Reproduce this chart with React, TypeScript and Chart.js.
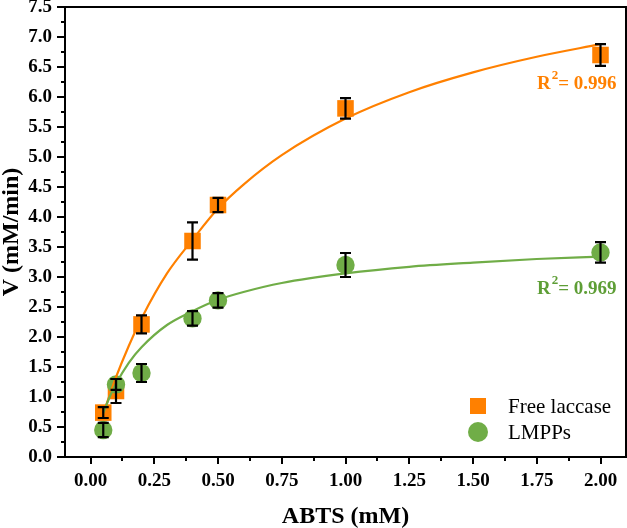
import React, { useEffect, useRef } from "react";
import { Chart, registerables } from "chart.js";

Chart.register(...registerables);

// ---- data ----
const substrateX = [0.05, 0.1, 0.2, 0.4, 0.5, 1.0, 2.0];
const freeLaccaseV = [0.74, 1.1, 2.21, 3.6, 4.2, 5.81, 6.7];
const freeLaccaseErr = [0.09, 0.2, 0.15, 0.31, 0.12, 0.17, 0.18];
const lmppsV = [0.45, 1.21, 1.4, 2.31, 2.61, 3.2, 3.41];
const lmppsErr = [0.12, 0.09, 0.15, 0.12, 0.12, 0.2, 0.17];

// fitted curves
const fitX = [0.05, 0.075, 0.1, 0.15, 0.2, 0.3, 0.4, 0.5, 0.6, 0.75, 1.0, 1.25, 1.5, 1.75, 2.0];
const freeLaccaseFit = [0.72, 1.03, 1.33, 1.85, 2.31, 3.06, 3.62, 4.14, 4.54, 5.03, 5.64, 6.08, 6.41, 6.67, 6.88];
const lmppsFit = [0.73, 1.0, 1.22, 1.57, 1.83, 2.2, 2.43, 2.62, 2.75, 2.9, 3.06, 3.17, 3.24, 3.3, 3.34];

const xMajorTicks = [0, 0.25, 0.5, 0.75, 1.0, 1.25, 1.5, 1.75, 2.0];
const xMinorTicks = [0.125, 0.375, 0.625, 0.875, 1.125, 1.375, 1.625, 1.875];
const yMajorTicks = [0, 0.5, 1.0, 1.5, 2.0, 2.5, 3.0, 3.5, 4.0, 4.5, 5.0, 5.5, 6.0, 6.5, 7.0, 7.5];
const yMinorTicks = [0.25, 0.75, 1.25, 1.75, 2.25, 2.75, 3.25, 3.75, 4.25, 4.75, 5.25, 5.75, 6.25, 6.75, 7.25];

const seriesNames = ["Free laccase", "LMPPs"];
const r2Labels = ["0.996", "0.969"];

const ORANGE = "#FF8000";
const GREEN = "#70AD47";
const GREEN_TEXT = "#5E9E36";
const SERIF = "'Liberation Serif', 'Times New Roman', serif";

const framePlugin = {
  id: "frameAndTicks",
  afterDraw(chart: any) {
    const { ctx, chartArea, scales } = chart;
    const xs = scales.x;
    const ys = scales.y;
    ctx.save();
    ctx.strokeStyle = "#000";
    ctx.lineWidth = 2;
    ctx.strokeRect(chartArea.left, chartArea.top, chartArea.right - chartArea.left, chartArea.bottom - chartArea.top);
    ctx.beginPath();
    xMajorTicks.forEach((v) => {
      const px = Math.round(xs.getPixelForValue(v));
      ctx.moveTo(px, chartArea.bottom);
      ctx.lineTo(px, chartArea.bottom + 7);
    });
    xMinorTicks.forEach((v) => {
      const px = Math.round(xs.getPixelForValue(v));
      ctx.moveTo(px, chartArea.bottom);
      ctx.lineTo(px, chartArea.bottom + 4);
    });
    yMajorTicks.forEach((v) => {
      const py = Math.round(ys.getPixelForValue(v));
      ctx.moveTo(chartArea.left, py);
      ctx.lineTo(chartArea.left - 8, py);
    });
    yMinorTicks.forEach((v) => {
      const py = Math.round(ys.getPixelForValue(v));
      ctx.moveTo(chartArea.left, py);
      ctx.lineTo(chartArea.left - 4, py);
    });
    ctx.stroke();
    ctx.restore();
  },
};

const errorBarPlugin = {
  id: "errorBars",
  afterDatasetsDraw(chart: any) {
    const { ctx, scales } = chart;
    const ys = scales.y;
    const errs = [freeLaccaseErr, lmppsErr];
    const vals = [freeLaccaseV, lmppsV];
    ctx.save();
    ctx.strokeStyle = "#000";
    ctx.lineWidth = 2.2;
    [0, 1].forEach((di) => {
      const meta = chart.getDatasetMeta(di);
      meta.data.forEach((pt: any, j: number) => {
        const x = pt.x;
        const top = ys.getPixelForValue(vals[di][j] + errs[di][j]);
        const bot = ys.getPixelForValue(vals[di][j] - errs[di][j]);
        ctx.beginPath();
        ctx.moveTo(x, top);
        ctx.lineTo(x, bot);
        ctx.moveTo(x - 5.5, top);
        ctx.lineTo(x + 5.5, top);
        ctx.moveTo(x - 5.5, bot);
        ctx.lineTo(x + 5.5, bot);
        ctx.stroke();
      });
    });
    ctx.restore();
  },
};

const annotationPlugin = {
  id: "annotations",
  afterDraw(chart: any) {
    const { ctx, chartArea } = chart;
    ctx.save();
    const drawR2 = (x: number, y: number, value: string, color: string) => {
      ctx.fillStyle = color;
      ctx.textBaseline = "alphabetic";
      ctx.textAlign = "left";
      ctx.font = `bold 19px ${SERIF}`;
      ctx.fillText("R", x, y);
      const rw = ctx.measureText("R").width;
      ctx.font = `bold 13px ${SERIF}`;
      ctx.fillText("2", x + rw + 1, y - 10);
      const sw = ctx.measureText("2").width;
      ctx.font = `bold 19px ${SERIF}`;
      ctx.fillText("= " + value, x + rw + sw + 1, y);
    };
    drawR2(chartArea.right - 89, 89, r2Labels[0], ORANGE);
    drawR2(chartArea.right - 89, 294, r2Labels[1], GREEN_TEXT);

    const lx = chartArea.right - 148;
    const ly1 = chartArea.bottom - 51;
    const ly2 = chartArea.bottom - 25;
    ctx.fillStyle = ORANGE;
    ctx.fillRect(lx - 8, ly1 - 8, 16, 16);
    ctx.fillStyle = GREEN;
    ctx.beginPath();
    ctx.arc(lx, ly2, 10, 0, Math.PI * 2);
    ctx.fill();
    ctx.fillStyle = "#000";
    ctx.font = `21px ${SERIF}`;
    ctx.textBaseline = "middle";
    ctx.fillText(seriesNames[0], lx + 30, ly1 + 1);
    ctx.fillText(seriesNames[1], lx + 30, ly2 + 1);
    ctx.restore();
  },
};

export default function App() {
  const canvasRef = useRef<HTMLCanvasElement | null>(null);

  useEffect(() => {
    if (!canvasRef.current) return;
    document.body.style.margin = "0";
    const chart = new Chart(canvasRef.current, {
      type: "scatter",
      data: {
        datasets: [
          {
            label: seriesNames[0],
            data: substrateX.map((x, i) => ({ x, y: freeLaccaseV[i] })),
            backgroundColor: ORANGE,
            borderWidth: 0,
            pointStyle: "rect",
            pointRadius: 11.7,
            order: 3,
          },
          {
            label: seriesNames[1],
            data: substrateX.map((x, i) => ({ x, y: lmppsV[i] })),
            backgroundColor: GREEN,
            borderWidth: 0,
            pointStyle: "circle",
            pointRadius: 9.2,
            order: 2,
          },
          {
            type: "line",
            label: "fit1",
            data: fitX.map((x, i) => ({ x, y: freeLaccaseFit[i] })),
            borderColor: ORANGE,
            borderWidth: 2.2,
            pointRadius: 0,
            cubicInterpolationMode: "monotone",
            showLine: true,
            order: 1,
          },
          {
            type: "line",
            label: "fit2",
            data: fitX.map((x, i) => ({ x, y: lmppsFit[i] })),
            borderColor: GREEN,
            borderWidth: 2.2,
            pointRadius: 0,
            cubicInterpolationMode: "monotone",
            showLine: true,
            order: 0,
          },
        ],
      } as any,
      options: {
        responsive: false,
        animation: false,
        devicePixelRatio: 1,
        layout: { autoPadding: false, padding: { top: 7, right: 1, left: 0, bottom: 0 } },
        plugins: { legend: { display: false }, tooltip: { enabled: false } },
        scales: {
          x: {
            type: "linear",
            min: -0.1,
            max: 2.1,
            afterBuildTicks: (scale: any) => {
              scale.ticks = xMajorTicks.map((v) => ({ value: v }));
            },
            afterFit: (scale: any) => {
              scale.height = 71;
              scale.paddingLeft = 0;
              scale.paddingRight = 0;
            },
            grid: { display: true, drawOnChartArea: false, drawTicks: false },
            border: { display: true, color: "#000", width: 2 },
            ticks: {
              padding: 13,
              color: "#000",
              maxRotation: 0,
              font: { family: SERIF, size: 19, weight: "bold" },
              callback: (v: any) => Number(v).toFixed(2),
            },
            title: {
              display: true,
              text: "ABTS (mM)",
              color: "#000",
              font: { family: SERIF, size: 24, weight: "bold" },
              padding: { top: 0, bottom: -3 },
            },
          },
          y: {
            type: "linear",
            min: 0,
            max: 7.5,
            afterBuildTicks: (scale: any) => {
              scale.ticks = yMajorTicks.map((v) => ({ value: v }));
            },
            afterFit: (scale: any) => {
              scale.width = 65;
              scale.paddingTop = 0;
              scale.paddingBottom = 0;
            },
            grid: { display: true, drawOnChartArea: false, drawTicks: false },
            border: { display: true, color: "#000", width: 2 },
            ticks: {
              padding: 13,
              color: "#000",
              font: { family: SERIF, size: 19, weight: "bold" },
              callback: (v: any) => Number(v).toFixed(1),
            },
            title: {
              display: true,
              text: "V (mM/min)",
              color: "#000",
              font: { family: SERIF, size: 24, weight: "bold" },
              padding: { top: -3, bottom: 0 },
            },
          },
        },
      } as any,
      plugins: [errorBarPlugin, framePlugin, annotationPlugin],
    });
    return () => chart.destroy();
  }, []);

  return (
    <div style={{ position: "absolute", left: 0, top: 0, width: 627, height: 528, background: "#fff" }}>
      <canvas ref={canvasRef} width={627} height={528} />
    </div>
  );
}
